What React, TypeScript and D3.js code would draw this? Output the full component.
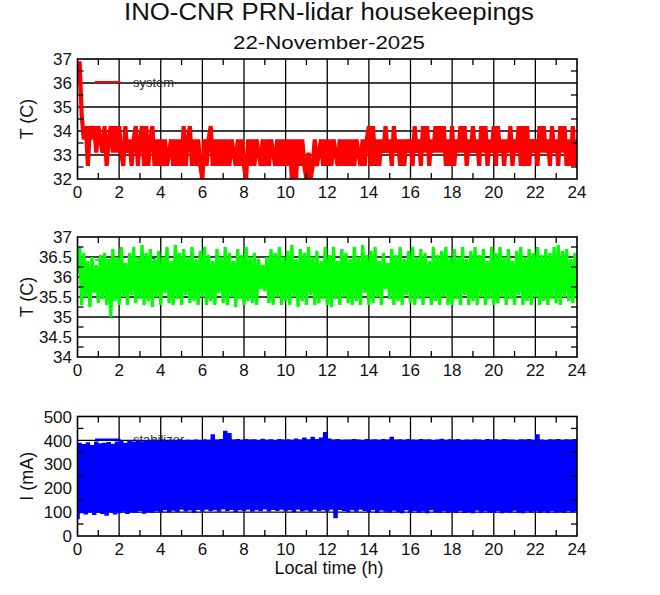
import * as d3 from 'd3'

// axis tick values
const timeTicks = [0, 2, 4, 6, 8, 10, 12, 14, 16, 18, 20, 22, 24]
const systemTicks = [32, 33, 34, 35, 36, 37]
const laserTicks = [34, 34.5, 35, 35.5, 36, 36.5, 37]
const stabilizerTicks = [0, 100, 200, 300, 400, 500]

// housekeeping samples, evenly spaced from 0 h to 24 h (one row = 1 h)
const systemTemp = [
  35.9, 36.9, 34.7, 33.65, 34.2, 32.55, 34.2, 33.65, 34.2, 33.1,
  34.2, 33.65, 33.1, 34.2, 32.55, 33.65, 34.2, 33.1, 34.2, 33.1,
  34.2, 33.1, 32.55, 34.2, 33.1, 33.65, 32.55, 33.65, 34.2, 32.55,
  33.65, 34.2, 32.55, 34.2, 32.55, 33.65, 34.2, 32.55, 33.65, 32.55,
  33.65, 32.55, 33.65, 32.55, 33.1, 33.65, 32.55, 33.65, 32.55, 33.65,
  32.55, 34.2, 32.55, 33.65, 34.2, 32.55, 33.65, 32.55, 33.65, 32.55,
  32.0, 33.65, 32.55, 33.65, 34.2, 32.55, 33.65, 32.55, 33.65, 32.55,
  33.65, 32.55, 33.65, 32.55, 33.65, 33.1, 32.55, 33.65, 32.55, 33.65,
  32.55, 32.0, 33.65, 32.55, 33.65, 32.55, 33.65, 33.1, 32.55, 33.65,
  32.55, 33.65, 32.55, 33.65, 33.1, 32.55, 33.65, 32.55, 33.65, 32.55,
  33.65, 32.55, 33.65, 32.0, 33.65, 32.0, 33.65, 32.55, 33.65, 32.55,
  32.0, 33.1, 32.0, 32.55, 33.65, 32.55, 33.1, 33.65, 32.55, 33.65,
  32.55, 33.65, 32.55, 33.65, 33.1, 32.55, 33.65, 32.55, 33.65, 32.55,
  33.65, 32.55, 33.65, 32.55, 33.65, 33.1, 32.55, 33.65, 32.55, 33.65,
  34.2, 32.55, 34.2, 32.55, 33.65, 32.55, 33.65, 33.1, 34.2, 33.1,
  33.65, 32.55, 34.2, 33.1, 33.65, 32.55, 33.65, 32.55, 33.65, 33.1,
  33.65, 32.55, 34.2, 33.1, 33.65, 32.55, 34.2, 33.1, 34.2, 32.55,
  33.65, 33.1, 34.2, 33.1, 34.2, 33.1, 34.2, 32.55, 33.65, 32.55,
  34.2, 32.55, 33.65, 33.1, 34.2, 33.1, 34.2, 32.55, 33.65, 33.1,
  34.2, 33.1, 33.65, 32.55, 34.2, 33.1, 34.2, 32.55, 33.65, 33.1,
  34.2, 32.55, 34.2, 33.1, 33.65, 32.55, 33.65, 33.1, 34.2, 32.55,
  33.65, 33.1, 34.2, 32.55, 34.2, 32.55, 34.2, 32.55, 33.65, 33.1,
  33.65, 32.55, 34.2, 33.1, 34.2, 33.1, 33.65, 32.55, 34.2, 33.1,
  33.65, 32.55, 34.2, 33.1, 34.2, 32.55, 33.65, 32.55, 34.2, 32.55,
  33.65,
]

const laserTemp = [
  36.1, 36.75, 35.3, 36.6, 35.5, 36.4, 35.25, 36.5, 35.6, 36.3,
  35.35, 36.55, 35.45, 36.6, 35.3, 36.45, 35.0, 36.7, 35.4, 36.5,
  35.3, 36.75, 35.5, 36.35, 35.3, 36.6, 35.55, 36.75, 35.35, 36.5,
  35.45, 36.8, 35.3, 36.6, 35.4, 36.7, 35.25, 36.45, 35.5, 36.65,
  35.3, 36.5, 35.6, 36.75, 35.35, 36.4, 35.3, 36.8, 35.45, 36.6,
  35.3, 36.7, 35.55, 36.5, 35.35, 36.75, 35.4, 36.45, 35.3, 36.65,
  35.5, 36.75, 35.3, 36.55, 35.4, 36.4, 35.3, 36.7, 35.6, 36.5,
  35.35, 36.75, 35.3, 36.6, 35.5, 36.4, 35.25, 36.7, 35.45, 36.55,
  35.3, 36.75, 35.4, 36.5, 35.35, 36.6, 35.3, 36.45, 35.7, 36.3,
  35.65, 36.5, 35.35, 36.7, 35.3, 36.6, 35.5, 36.75, 35.3, 36.5,
  35.4, 36.65, 35.3, 36.8, 35.5, 36.45, 35.25, 36.7, 35.4, 36.6,
  35.3, 36.75, 35.55, 36.5, 35.3, 36.65, 35.35, 36.4, 35.45, 36.75,
  35.3, 36.55, 35.25, 36.75, 35.45, 36.4, 35.3, 36.7, 35.5, 36.6,
  35.35, 36.45, 35.3, 36.75, 35.4, 36.5, 35.3, 36.8, 35.6, 36.55,
  35.3, 36.65, 35.35, 36.75, 35.5, 36.4, 35.3, 36.6, 35.7, 36.35,
  35.45, 36.7, 35.3, 36.55, 35.4, 36.75, 35.3, 36.45, 35.55, 36.65,
  35.35, 36.75, 35.3, 36.5, 35.45, 36.7, 35.3, 36.6, 35.5, 36.4,
  35.3, 36.75, 35.4, 36.55, 35.3, 36.65, 35.5, 36.75, 35.3, 36.5,
  35.3, 36.7, 35.45, 36.5, 35.3, 36.75, 35.55, 36.45, 35.3, 36.65,
  35.4, 36.75, 35.3, 36.55, 35.5, 36.7, 35.3, 36.4, 35.45, 36.75,
  35.3, 36.6, 35.35, 36.75, 35.5, 36.5, 35.3, 36.7, 35.45, 36.4,
  35.3, 36.65, 35.55, 36.75, 35.3, 36.5, 35.4, 36.7, 35.3, 36.6,
  35.5, 36.75, 35.3, 36.55, 35.4, 36.7, 35.3, 36.6, 35.45, 36.75,
  35.35, 36.8, 35.3, 36.65, 35.5, 36.7, 35.4, 36.45, 35.35, 36.6,
  35.5,
]

const stabilizerCurrent = [
  70, 390, 95, 385, 90, 392, 100, 380, 88, 395,
  98, 388, 92, 390, 85, 393, 100, 386, 90, 395,
  95, 398, 102, 390, 92, 400, 100, 395, 96, 402,
  105, 396, 93, 400, 100, 398, 97, 403, 104, 397,
  100, 404, 108, 398, 99, 402, 106, 400, 101, 405,
  110, 399, 103, 402, 107, 401, 98, 404, 109, 400,
  103, 405, 110, 402, 104, 425, 108, 403, 102, 406,
  111, 440, 104, 431, 109, 404, 101, 406, 108, 402,
  105, 406, 110, 403, 102, 405, 108, 401, 104, 407,
  111, 402, 103, 405, 109, 400, 105, 406, 110, 403,
  104, 405, 108, 402, 100, 408, 110, 404, 103, 412,
  107, 405, 102, 415, 110, 406, 104, 412, 108, 435,
  103, 408, 110, 404, 75, 406, 109, 402, 105, 404,
  101, 403, 108, 406, 102, 404, 110, 401, 105, 406,
  100, 403, 108, 405, 96, 402, 107, 406, 102, 404,
  98, 415, 106, 403, 100, 405, 95, 402, 108, 406,
  97, 404, 105, 402, 96, 406, 103, 403, 95, 405,
  108, 401, 99, 404, 96, 407, 104, 402, 97, 405,
  102, 403, 96, 406, 105, 401, 97, 404, 100, 402,
  95, 405, 106, 403, 96, 401, 104, 406, 98, 403,
  97, 405, 104, 402, 95, 406, 101, 403, 96, 404,
  106, 401, 98, 405, 95, 403, 103, 406, 99, 402,
  104, 425, 97, 404, 102, 401, 96, 405, 104, 403,
  98, 406, 101, 402, 96, 405, 104, 403, 99, 406,
  103,
]

const FONT = '"Liberation Sans", Arial, sans-serif'
const left = 77.5
const right = 577
const tickLen = 6

type PanelProps = {
  id: string
  top: number
  bottom: number
  ticks: number[]
  values: number[]
  color: string
  width: number
  label: string
  yTitle: string
}

const Panel = ({ id, top, bottom, ticks, values, color, width, label, yTitle }: PanelProps) => {
  const x = d3.scaleLinear().domain([0, 24]).range([left, right])
  const y = d3
    .scaleLinear()
    .domain([ticks[0], ticks[ticks.length - 1]])
    .range([bottom, top])

  const n = values.length
  const line = d3
    .line<number>()
    .x((_, i) => x((i * 24) / (n - 1)))
    .y((d) => y(d))

  const step = ticks[1] - ticks[0]
  const yMinor = d3.range(ticks[0] + step / 2, ticks[ticks.length - 1], step)
  const xMinor = d3.range(1, 24, 2)
  const legendY = top + 23

  return (
    <g>
      <defs>
        <clipPath id={`clip-${id}`}>
          <rect x={left} y={top} width={right - left} height={bottom - top} />
        </clipPath>
      </defs>

      {/* grid */}
      {ticks.slice(1, -1).map((t) => (
        <line key={`gy${t}`} x1={left} x2={right} y1={y(t)} y2={y(t)} stroke="#000" strokeWidth={1.3} />
      ))}
      {timeTicks.slice(1, -1).map((t) => (
        <line key={`gx${t}`} x1={x(t)} x2={x(t)} y1={top} y2={bottom} stroke="#000" strokeWidth={1.3} />
      ))}

      {/* legend */}
      <line x1={95} x2={120.5} y1={legendY} y2={legendY} stroke={color} strokeWidth={2} />
      <text x={133} y={legendY} dy="0.35em" fontFamily={FONT} fontSize={13} fill="#333">
        {label}
      </text>

      {/* data: dense samples drawn as one thick polyline */}
      <path
        d={line(values) || undefined}
        fill="none"
        stroke={color}
        strokeWidth={width}
        strokeLinejoin="bevel"
        clipPath={`url(#clip-${id})`}
      />

      {/* frame & ticks */}
      <rect x={left} y={top} width={right - left} height={bottom - top} fill="none" stroke="#000" strokeWidth={1.6} />
      {yMinor.map((t) => (
        <g key={`my${t}`}>
          <line x1={left} x2={left + tickLen} y1={y(t)} y2={y(t)} stroke="#000" strokeWidth={1.3} />
          <line x1={right - tickLen} x2={right} y1={y(t)} y2={y(t)} stroke="#000" strokeWidth={1.3} />
        </g>
      ))}
      {xMinor.map((t) => (
        <g key={`mx${t}`}>
          <line x1={x(t)} x2={x(t)} y1={top} y2={top + tickLen} stroke="#000" strokeWidth={1.3} />
          <line x1={x(t)} x2={x(t)} y1={bottom - tickLen} y2={bottom} stroke="#000" strokeWidth={1.3} />
        </g>
      ))}

      {/* tick labels */}
      {ticks.map((t) => (
        <text
          key={`ly${t}`}
          x={72}
          y={y(t)}
          dy="0.36em"
          textAnchor="end"
          fontFamily={FONT}
          fontSize={17}
          fill="#111"
        >
          {t}
        </text>
      ))}
      {timeTicks.map((t) => (
        <text
          key={`lx${t}`}
          x={x(t)}
          y={bottom + 19}
          textAnchor="middle"
          fontFamily={FONT}
          fontSize={17}
          fill="#111"
        >
          {t}
        </text>
      ))}
      <text
        transform={`translate(33,${(top + bottom) / 2}) rotate(-90)`}
        textAnchor="middle"
        fontFamily={FONT}
        fontSize={18}
        fill="#111"
      >
        {yTitle}
      </text>
    </g>
  )
}

export default function App() {
  return (
    <svg
      width={660}
      height={595}
      viewBox="0 0 660 595"
      style={{ position: 'absolute', left: 0, top: 0, background: '#fff' }}
    >
      <rect width={660} height={595} fill="#fff" />
      <text x={329} y={20} textAnchor="middle" fontFamily={FONT} fontSize={23} textLength={410} lengthAdjust="spacingAndGlyphs" fill="#111">
        INO-CNR PRN-lidar housekeepings
      </text>
      <text x={329} y={49} textAnchor="middle" fontFamily={FONT} fontSize={19} textLength={192} lengthAdjust="spacingAndGlyphs" fill="#111">
        22-November-2025
      </text>

      <Panel id="system" top={59} bottom={179} ticks={systemTicks} values={systemTemp} color="#ff0000" width={4.2} label="system" yTitle="T (C)" />
      <Panel id="laser" top={237} bottom={357} ticks={laserTicks} values={laserTemp} color="#00ff00" width={3.3} label="laser" yTitle="T (C)" />
      <Panel id="stab" top={416.5} bottom={536} ticks={stabilizerTicks} values={stabilizerCurrent} color="#0000ff" width={4.4} label="stabilizer" yTitle="I (mA)" />

      <text x={329} y={574} textAnchor="middle" fontFamily={FONT} fontSize={18} fill="#111">
        Local time (h)
      </text>
    </svg>
  )
}
